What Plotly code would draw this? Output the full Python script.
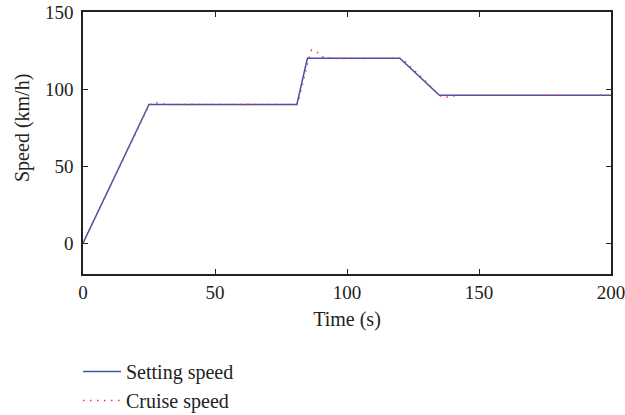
import plotly.graph_objects as go

# Setting speed (reference profile)
set_t = [0, 25, 81, 85, 120, 135, 200]
set_v = [0, 90, 90, 120, 120, 96, 96]

# Cruise speed (measured response)
cruise_t = [0, 25, 27, 29, 32, 80, 81, 81.6, 83, 84.5, 85.5, 86.6, 88.8, 90.4, 95.6, 120, 121, 128, 135, 136.7, 139, 142, 200]
cruise_v = [0, 89.5, 91.5, 90.6, 90, 90, 90, 92, 102, 113, 120, 125.3, 123.8, 121, 119.8, 120, 119.5, 108, 96, 94.4, 95, 96, 96]

x_ticks = [0, 50, 100, 150, 200]
y_ticks = [0, 50, 100, 150]

font_family = "Liberation Serif"
tick_fs = 19
title_fs = 20

fig = go.Figure()
fig.add_trace(go.Scatter(x=set_t, y=set_v, mode="lines", name="Setting speed",
                         line=dict(color="#3a55b0", width=1.5)))
fig.add_trace(go.Scatter(x=cruise_t, y=cruise_v, mode="lines", name="Cruise speed",
                         line=dict(color="#ff3030", width=1.5, dash="1.5px,5.5px")))

axis_common = dict(showline=True, linecolor="#222", linewidth=1.5, mirror="ticks",
                   ticks="inside", ticklen=5, tickwidth=1.2, tickcolor="#222",
                   showgrid=False, zeroline=False, automargin=False,
                   ticklabeloverflow="allow",
                   tickfont=dict(family=font_family, size=tick_fs, color="#222"))

fig.update_xaxes(range=[0, 200], tickvals=x_ticks,
                 title=dict(text="Time (s)", font=dict(family=font_family, size=title_fs, color="#222"), standoff=10),
                 **axis_common)
fig.update_yaxes(range=[-20, 150], tickvals=y_ticks, ticklabelstandoff=4, **axis_common)

fig.add_annotation(text="Speed (km/h)", textangle=-90, showarrow=False,
                   xref="paper", yref="paper", x=(22 - 83) / 528, y=1 - (128 - 12) / 262,
                   xanchor="center", yanchor="middle",
                   font=dict(family=font_family, size=title_fs, color="#222"))

fig.update_layout(
    width=625, height=415,
    margin=dict(l=83, r=14, t=12, b=141),
    plot_bgcolor="white", paper_bgcolor="white",
    font=dict(family=font_family, size=title_fs, color="#222"),
    legend=dict(x=-5 / 528, xref="paper", y=0.152, yref="container",
                xanchor="left", yanchor="top", orientation="v",
                font=dict(family=font_family, size=title_fs, color="#222"),
                tracegroupgap=0, itemwidth=38, bgcolor="rgba(0,0,0,0)"),
    showlegend=True,
)

fig.write_html("out.html")
